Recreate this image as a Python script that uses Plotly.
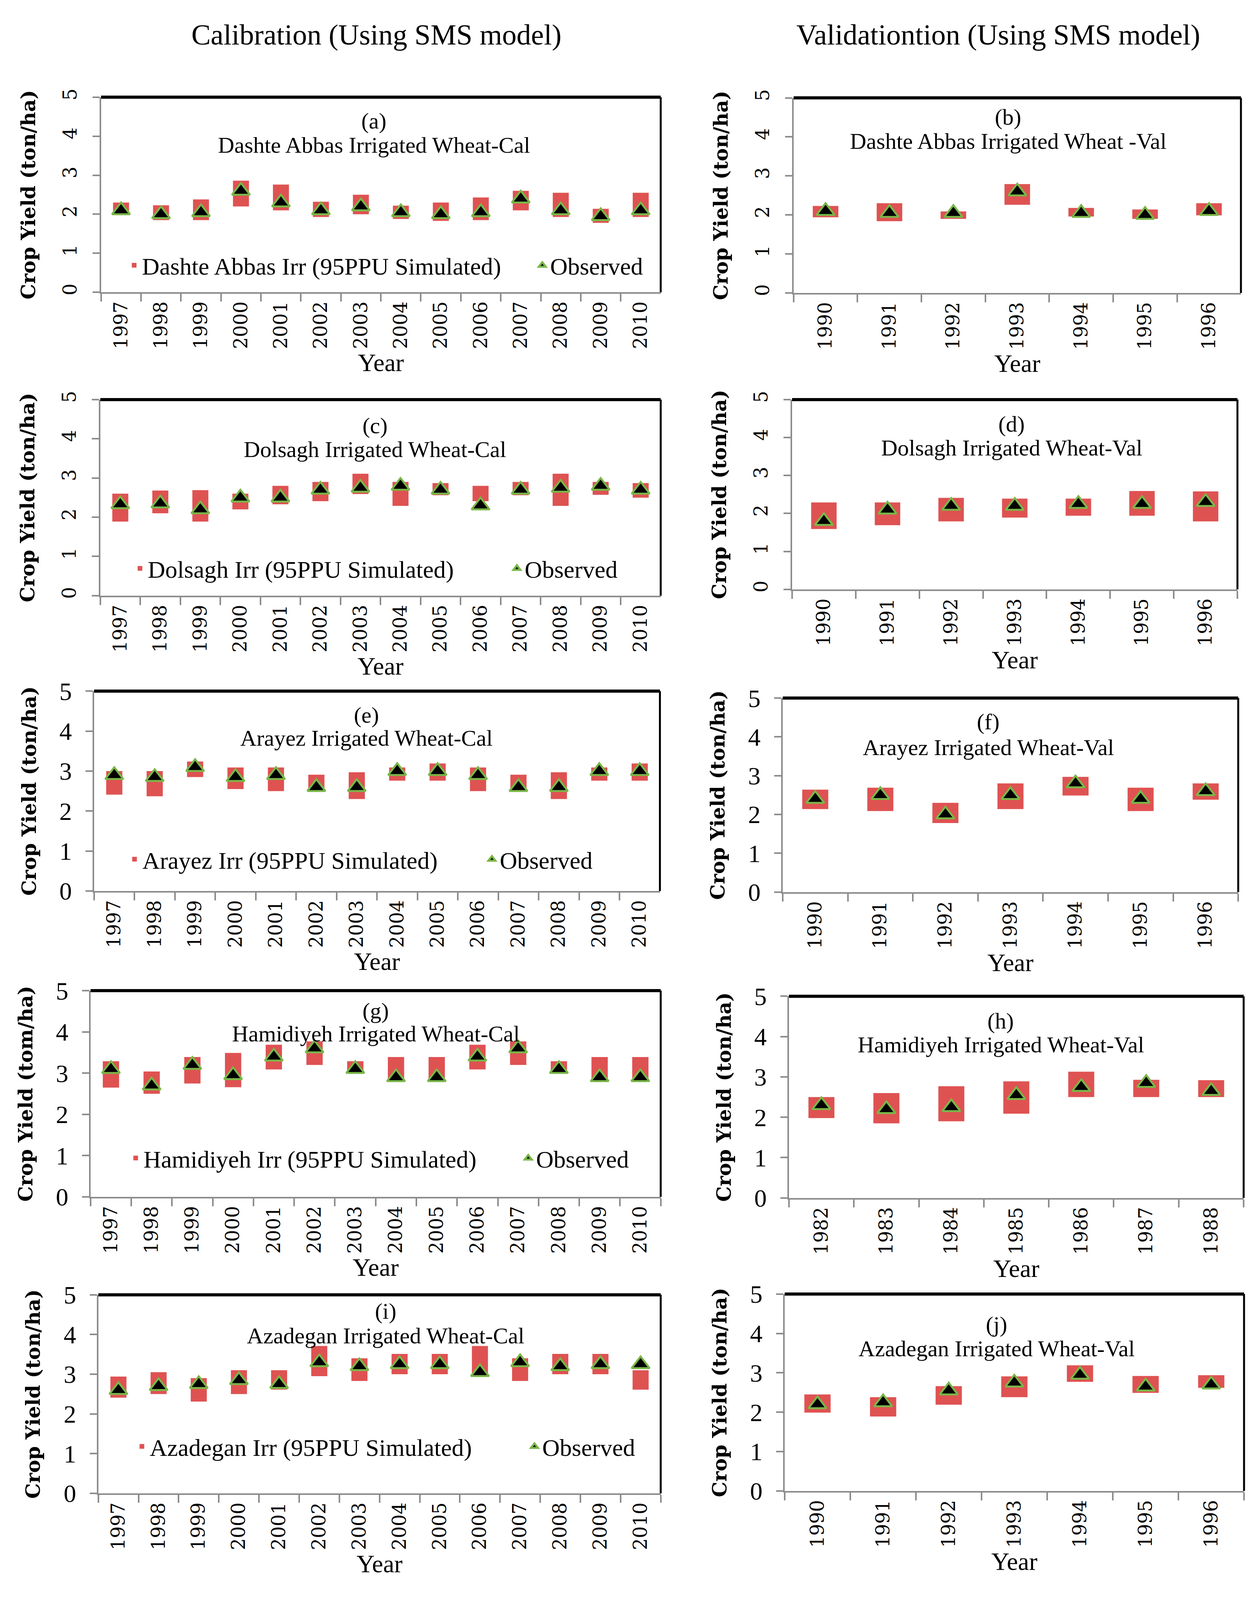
import plotly.graph_objects as go

# -------------------------------
# Data
# -------------------------------
years_cal = ["1997", "1998", "1999", "2000", "2001", "2002", "2003",
             "2004", "2005", "2006", "2007", "2008", "2009", "2010"]
years_val = ["1990", "1991", "1992", "1993", "1994", "1995", "1996"]
years_val_hamid = ["1982", "1983", "1984", "1985", "1986", "1987", "1988"]

dashte_cal_lower = [2.00, 1.85, 1.85, 2.20, 2.10, 1.93, 2.00, 1.88, 1.83, 1.85, 2.10, 1.93, 1.78, 1.93]
dashte_cal_upper = [2.30, 2.23, 2.38, 2.86, 2.76, 2.32, 2.50, 2.22, 2.30, 2.43, 2.60, 2.55, 2.14, 2.55]
dashte_cal_obs = [2.10, 2.00, 2.05, 2.60, 2.30, 2.10, 2.20, 2.05, 2.00, 2.05, 2.40, 2.10, 1.95, 2.10]

dashte_val_lower = [1.94, 1.84, 1.90, 2.26, 1.96, 1.90, 1.99]
dashte_val_upper = [2.23, 2.30, 2.09, 2.79, 2.18, 2.14, 2.30]
dashte_val_obs = [2.10, 2.05, 2.05, 2.60, 2.05, 2.00, 2.10]

dolsagh_cal_lower = [1.89, 2.10, 1.89, 2.20, 2.33, 2.41, 2.59, 2.29, 2.56, 2.41, 2.56, 2.29, 2.57, 2.50]
dolsagh_cal_upper = [2.60, 2.68, 2.69, 2.60, 2.80, 2.90, 3.11, 2.90, 2.87, 2.80, 2.90, 3.11, 2.90, 2.87]
dolsagh_cal_obs = [2.33, 2.35, 2.20, 2.50, 2.50, 2.70, 2.75, 2.80, 2.70, 2.30, 2.70, 2.75, 2.80, 2.70]

dolsagh_val_lower = [1.59, 1.69, 1.79, 1.89, 1.94, 1.94, 1.79]
dolsagh_val_upper = [2.29, 2.29, 2.41, 2.39, 2.39, 2.59, 2.58]
dolsagh_val_obs = [1.80, 2.10, 2.20, 2.20, 2.25, 2.25, 2.30]

arayez_cal_lower = [2.41, 2.37, 2.85, 2.55, 2.50, 2.51, 2.30, 2.76, 2.76, 2.50, 2.51, 2.30, 2.76, 2.76]
arayez_cal_upper = [3.00, 3.00, 3.24, 3.09, 3.09, 2.91, 2.97, 3.09, 3.19, 3.09, 2.91, 2.97, 3.09, 3.19]
arayez_cal_obs = [2.90, 2.85, 3.10, 2.85, 2.90, 2.60, 2.60, 3.00, 3.00, 2.90, 2.60, 2.60, 3.00, 3.00]

arayez_val_lower = [2.14, 2.09, 1.78, 2.14, 2.49, 2.09, 2.38]
arayez_val_upper = [2.64, 2.69, 2.30, 2.80, 2.97, 2.69, 2.80]
arayez_val_obs = [2.40, 2.50, 2.00, 2.50, 2.80, 2.40, 2.60]

hamid_cal_lower = [2.65, 2.50, 2.75, 2.66, 3.09, 3.20, 2.99, 2.80, 2.80, 3.09, 3.20, 2.99, 2.80, 2.80]
hamid_cal_upper = [3.29, 3.04, 3.39, 3.49, 3.69, 3.77, 3.29, 3.39, 3.39, 3.69, 3.77, 3.29, 3.39, 3.39]
hamid_cal_obs = [3.10, 2.70, 3.20, 2.95, 3.40, 3.60, 3.10, 2.90, 2.90, 3.40, 3.60, 3.10, 2.90, 2.90]

hamid_val_lower = [1.98, 1.85, 1.90, 2.09, 2.50, 2.50, 2.50]
hamid_val_upper = [2.50, 2.60, 2.77, 2.89, 3.13, 2.93, 2.92]
hamid_val_obs = [2.30, 2.20, 2.25, 2.55, 2.75, 2.85, 2.65]

azad_cal_lower = [2.41, 2.50, 2.31, 2.50, 2.61, 2.95, 2.83, 3.00, 3.00, 2.95, 2.83, 3.00, 3.00, 2.61]
azad_cal_upper = [2.94, 3.05, 2.90, 3.10, 3.10, 3.71, 3.40, 3.51, 3.51, 3.71, 3.40, 3.51, 3.51, 3.10]
azad_cal_obs = [2.60, 2.70, 2.75, 2.85, 2.75, 3.30, 3.20, 3.25, 3.25, 3.05, 3.30, 3.20, 3.25, 3.25]

azad_val_lower = [1.99, 1.89, 2.19, 2.38, 2.77, 2.49, 2.62]
azad_val_upper = [2.45, 2.38, 2.66, 2.91, 3.19, 2.92, 2.94]
azad_val_obs = [2.20, 2.25, 2.55, 2.75, 2.95, 2.65, 2.70]

# -------------------------------
# Panel definitions (positions measured on a 3208 x 4480 page)
# -------------------------------
W, H = 3208, 4480
RED = "#DF5252"
GREEN = "#7AB648"
GRAY = "#8C8C8C"
TIMES = "Liberation Serif"
WIDE = "DejaVu Serif"

# (letter, title, years, lower, upper, obs, legend name, ytitle,
#  plot box px [left, right, top, bottom], letter px (x, y), title y px,
#  legend px (x, y), entrywidth, rotated y ticks)
panels = [
    ("(a)", "Dashte Abbas Irrigated Wheat-Cal", years_cal, dashte_cal_lower, dashte_cal_upper, dashte_cal_obs,
     "Dashte Abbas Irr (95PPU Simulated)", "Crop Yield (ton/ha)",
     [252, 1692, 230, 788], (954, 298), 367, (317, 711), 1000, True),
    ("(b)", "Dashte Abbas Irrigated Wheat -Val", years_val, dashte_val_lower, dashte_val_upper, dashte_val_obs,
     None, "Crop Yield (ton/ha)",
     [2034, 3185, 232, 790], (2586, 287), 356, None, None, True),
    ("(c)", "Dolsagh Irrigated Wheat-Cal", years_cal, dolsagh_cal_lower, dolsagh_cal_upper, dolsagh_cal_obs,
     "Dolsagh Irr (95PPU Simulated)", "Crop Yield (ton/ha)",
     [250, 1692, 1095, 1656], (957, 1170), 1238, (332, 1578), 920, True),
    ("(d)", "Dolsagh Irrigated Wheat-Val", years_val, dolsagh_val_lower, dolsagh_val_upper, dolsagh_val_obs,
     None, "Crop Yield (ton/ha)",
     [2030, 3176, 1095, 1638], (2595, 1165), 1233, None, None, True),
    ("(e)", "Arayez Irrigated Wheat-Cal", years_cal, arayez_cal_lower, arayez_cal_upper, arayez_cal_obs,
     "Arayez Irr (95PPU Simulated)", "Crop Yield (ton/ha)",
     [234, 1690, 1929, 2501], (935, 1998), 2063, (318, 2410), 870, False),
    ("(f)", "Arayez Irrigated Wheat-Val", years_val, arayez_val_lower, arayez_val_upper, arayez_val_obs,
     None, "Crop Yield (ton/ha)",
     [2006, 3178, 1949, 2504], (2535, 2017), 2090, None, None, False),
    ("(g)", "Hamidiyeh Irrigated Wheat-Cal", years_cal, hamid_cal_lower, hamid_cal_upper, hamid_cal_obs,
     "Hamidiyeh Irr (95PPU Simulated)", "Crop Yield (tom/ha)",
     [225, 1692, 2786, 3376], (959, 2843), 2909, (321, 3265), 960, False),
    ("(h)", "Hamidiyeh Irrigated Wheat-Val", years_val_hamid, hamid_val_lower, hamid_val_upper, hamid_val_obs,
     None, "Crop Yield (ton/ha)",
     [2022, 3192, 2802, 3379], (2567, 2873), 2941, None, None, False),
    ("(i)", "Azadegan Irrigated Wheat-Cal", years_cal, azad_cal_lower, azad_cal_upper, azad_cal_obs,
     "Azadegan Irr (95PPU Simulated)", "Crop Yield (ton/ha)",
     [245, 1692, 3656, 4224], (984, 3703), 3773, (337, 4090), 960, False),
    ("(j)", "Azadegan Irrigated Wheat-Val", years_val, azad_val_lower, azad_val_upper, azad_val_obs,
     None, "Crop Yield (ton/ha)",
     [2011, 3193, 3654, 4217], (2556, 3741), 3810, None, None, False),
]

fig = go.Figure()
layout = {}
annotations = []
shapes = []
leg_n = 0

for i, (letter, title, years, lower, upper, obs, legname, ytitle,
        box, letter_pos, title_y, leg_pos, entryw, rot) in enumerate(panels):
    n = i + 1
    xa = "x" if n == 1 else f"x{n}"
    ya = "y" if n == 1 else f"y{n}"
    xkey = "xaxis" if n == 1 else f"xaxis{n}"
    ykey = "yaxis" if n == 1 else f"yaxis{n}"

    legkey = None
    if legname:
        leg_n += 1
        legkey = "legend" if leg_n == 1 else f"legend{leg_n}"
        layout[legkey] = dict(
            x=leg_pos[0] / W, y=1 - leg_pos[1] / H,
            xanchor="left", yanchor="middle",
            orientation="h", bgcolor="rgba(0,0,0,0)",
            font=dict(family=TIMES, size=62, color="black"),
            entrywidth=entryw, entrywidthmode="pixels",
            itemclick=False, itemdoubleclick=False,
        )

    heights = [u - l for u, l in zip(upper, lower)]
    fig.add_trace(go.Bar(
        x=years, y=heights, base=lower, width=0.4,
        marker=dict(color=RED, line=dict(width=0)),
        name=legname or "95PPU Simulated",
        showlegend=bool(legname), legend=legkey or "legend",
        xaxis=xa, yaxis=ya,
    ))
    fig.add_trace(go.Scatter(
        x=years, y=obs, mode="markers",
        marker=dict(symbol="triangle-up", size=40, color="black",
                    line=dict(color=GREEN, width=5)),
        name="Observed",
        showlegend=bool(legname), legend=legkey or "legend",
        xaxis=xa, yaxis=ya,
    ))

    left, right, top, bottom = box
    layout[xkey] = dict(
        domain=[left / W, right / W], anchor=ya,
        type="category", range=[-0.5, len(years) - 0.5],
        tickson="boundaries", ticks="outside", ticklen=20, tickwidth=4, tickcolor=GRAY,
        showline=True, linecolor=GRAY, linewidth=4, showgrid=False, zeroline=False,
        tickangle=-90, tickfont=dict(family=WIDE, size=48, color="black"),
        title=dict(text="Year", font=dict(family=TIMES, size=64, color="black"), standoff=6),
        fixedrange=True,
    )
    layout[ykey] = dict(
        domain=[1 - bottom / H, 1 - top / H], anchor=xa,
        range=[0, 5], dtick=1, ticks="outside", ticklen=18, tickwidth=4, tickcolor=GRAY,
        showline=True, linecolor=GRAY, linewidth=4, showgrid=False, zeroline=False,
        tickangle=-90 if rot else 0, ticklabelstandoff=22,
        tickfont=dict(family=WIDE if rot else TIMES, size=48 if rot else 64, color="black"),
        title=dict(text=f"<b>{ytitle}</b>", font=dict(family=WIDE, size=50, color="black"),
                   standoff=45),
        fixedrange=True,
    )

    # black top and right frame lines
    shapes.append(dict(type="line", xref=f"{xa} domain", yref=f"{ya} domain",
                       x0=0, x1=1, y0=1, y1=1, line=dict(color="black", width=8)))
    shapes.append(dict(type="line", xref=f"{xa} domain", yref=f"{ya} domain",
                       x0=1, x1=1, y0=0, y1=1, line=dict(color="black", width=5)))

    annotations.append(dict(text=letter, x=letter_pos[0] / W, y=1 - letter_pos[1] / H,
                            xref="paper", yref="paper", xanchor="center", yanchor="middle",
                            showarrow=False, font=dict(family=TIMES, size=58, color="black")))
    annotations.append(dict(text=title, x=letter_pos[0] / W, y=1 - title_y / H,
                            xref="paper", yref="paper", xanchor="center", yanchor="middle",
                            showarrow=False, font=dict(family=TIMES, size=58, color="black")))

# column headers
annotations.append(dict(text="Calibration (Using SMS model)", x=961 / W, y=1 - 51 / H,
                        xref="paper", yref="paper", xanchor="center", yanchor="middle",
                        showarrow=False, font=dict(family=TIMES, size=74, color="black")))
annotations.append(dict(text="Validationtion (Using SMS model)", x=2561 / W, y=1 - 51 / H,
                        xref="paper", yref="paper", xanchor="center", yanchor="middle",
                        showarrow=False, font=dict(family=TIMES, size=74, color="black")))

fig.update_layout(
    margin=dict(l=0, r=0, t=0, b=0),
    paper_bgcolor="white", plot_bgcolor="white",
    barmode="overlay",
    annotations=annotations, shapes=shapes,
    **layout,
)

# fill the browser window so that the whole figure is visible
fig.write_html("out.html", default_width="100%", default_height="calc(100vh - 16px)")
